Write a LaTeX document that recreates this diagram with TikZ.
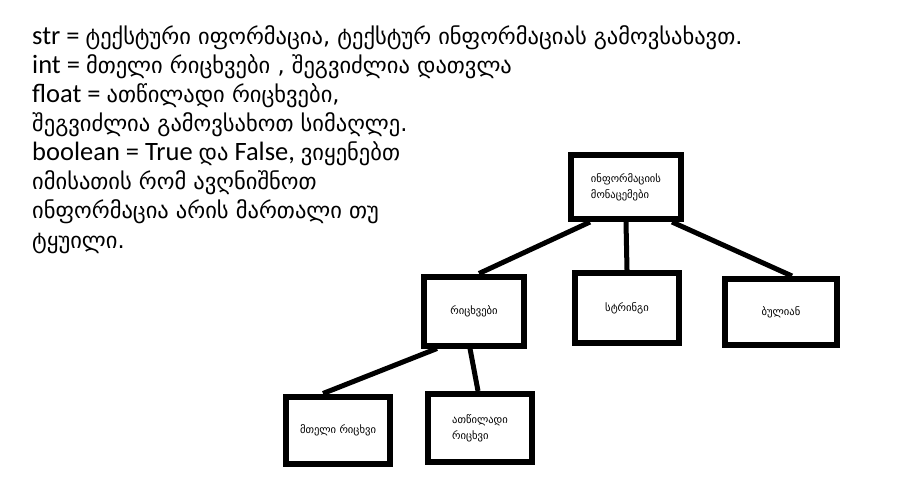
\documentclass[tikz,border=0pt]{standalone}
\usepackage{fontspec}
\usepackage{tikz}
\usetikzlibrary{positioning}
\setmainfont{Carlito}
\newfontfamily\geo{DejaVu Sans}
\newcommand{\kat}[1]{{\geo\fontsize{22.5}{29}\selectfont #1}}

\begin{document}
\begin{tikzpicture}[
          x=1pt, y=-1pt,
          txt/.style={anchor=base west, inner sep=0pt, font=\fontsize{26.5}{29}\selectfont},
          box/.style={rectangle, draw, line width=6pt, fill=white, align=left,
                      font=\geo\fontsize{10.6}{16}\selectfont},
          link/.style={line width=5pt}
        ]
        \useasboundingbox (0,0) rectangle (920,494);
        % legend text
        \node[txt] (l1) at (32,45) {str = \kat{ტექსტური იფორმაცია, ტექსტურ ინფორმაციას გამოვსახავთ.}};
        \node[txt] (l2) at (32,74) {int = \kat{მთელი რიცხვები , შეგვიძლია დათვლა}};
        \node[txt] (l3) at (32,103) {float = \kat{ათწილადი რიცხვები,}};
        \node[txt] (l4) at (32,132) {\kat{შეგვიძლია გამოვსახოთ სიმაღლე.}};
        \node[txt] (l5) at (32,161) {boolean = True \kat{და} False, \kat{ვიყენებთ}};
        \node[txt] (l6) at (32,190) {\kat{იმისათის რომ ავღნიშნოთ}};
        \node[txt] (l7) at (32,219) {\kat{ინფორმაცია არის მართალი თუ}};
        \node[txt] (l8) at (32,248) {\kat{ტყუილი.}};
        % tree
        \node[box, minimum width=110, minimum height=64] (data) at (626,187) {ინფორმაციის\\მონაცემები};
        \node[box, minimum width=100, minimum height=69] (num) at (474,311) {რიცხვები};
        \node[box, minimum width=104, minimum height=70] (str) at (627,308) {სტრინგი};
        \node[box, minimum width=112, minimum height=66] (bool) at (781,312) {ბულიან};
        \node[box, minimum width=104, minimum height=67] (int) at (338,430) {მთელი რიცხვი};
        \node[box, minimum width=104, minimum height=68] (flt) at (480,428) {ათწილადი\\რიცხვი};
        \draw[link] ([xshift=-36pt]data.south) -- ([xshift=5pt]num.north);
        \draw[link] (data.south) -- (str.north);
        \draw[link] ([xshift=46pt]data.south) -- ([xshift=11pt]bool.north);
        \draw[link] ([xshift=-37pt]num.south) -- ([xshift=-15pt]int.north);
        \draw[link] ([xshift=-4pt]num.south) -- ([xshift=-2pt]flt.north);
      \end{tikzpicture}
\end{document}
